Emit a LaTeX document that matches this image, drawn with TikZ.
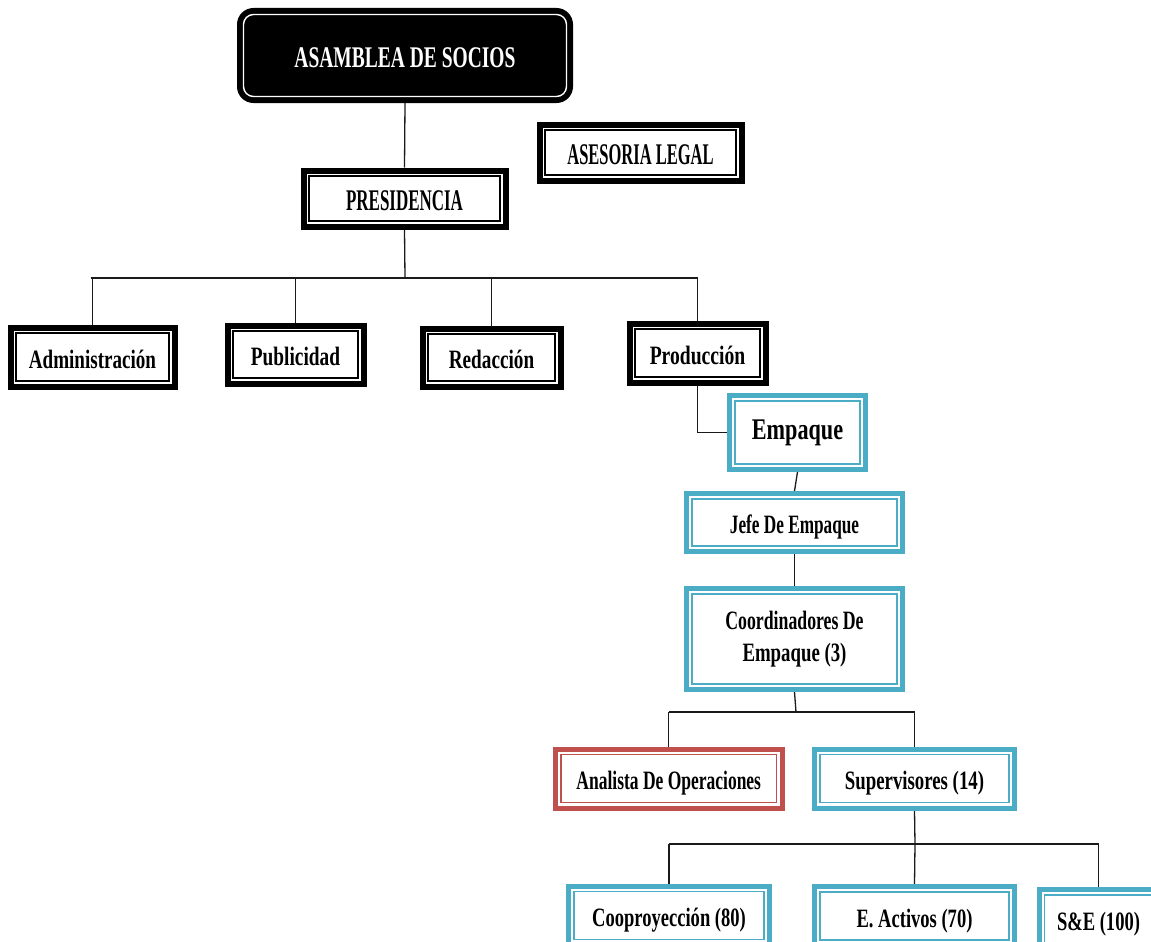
\documentclass[tikz,border=0pt]{standalone}
\usepackage{fontspec}
\usetikzlibrary{backgrounds}
\setmainfont{Liberation Serif}
\definecolor{aqua}{HTML}{4BACC6}
\definecolor{brick}{HTML}{C0504D}
\definecolor{lnk}{HTML}{1A1A1A}
\begin{document}
\begin{tikzpicture}[x=1pt,y=-1pt,
  obox/.style n args={3}{draw=#1, line width=5pt, fill=white, inner sep=0pt,
    minimum width=#2-5pt, minimum height=#3-5pt, align=center,
    path picture={\draw[#1, line width=1.6pt]
      ([shift={(5.6pt,-5.6pt)}]path picture bounding box.north west) rectangle
      ([shift={(-5.6pt,5.6pt)}]path picture bounding box.south east);}},
  bbox/.style 2 args={obox={black}{#1}{#2}, line width=6pt},
  cbox/.style 2 args={obox={aqua}{#1}{#2}},
  rbox/.style 2 args={obox={brick}{#1}{#2}},
  capt/.style={font=\rmfamily\bfseries\fontsize{30}{32}\selectfont\addfontfeatures{FakeStretch=#1},
    text height=23.5pt, text depth=0pt},
  lowf/.style={font=\rmfamily\bfseries\fontsize{26.5}{32}\selectfont\addfontfeatures{FakeStretch=#1}},
  lowt/.style={lowf=#1, text height=22pt, text depth=0pt},
  link/.style={draw=lnk, line width=1.3pt}
]
\useasboundingbox (0,0) rectangle (1151,942);
\coordinate (b1) at (405,278);
\coordinate (b2) at (796,712);
\coordinate (b3) at (915,844);

\node[draw=black, fill=black, line width=3pt, rounded corners=15pt, minimum width=333pt, minimum height=92pt,
  inner sep=0pt, capt=0.65, text=white,
  path picture={\draw[white, line width=1.4pt, rounded corners=10pt]
      ([shift={(5pt,-5pt)}]path picture bounding box.north west) rectangle
      ([shift={(-5pt,5pt)}]path picture bounding box.south east);}]
  (asam) at (405,55.5) {ASAMBLEA DE SOCIOS};

\node[bbox={207}{61}, capt=0.55] (ases) at (640.5,152.5) {ASESORIA LEGAL};
\node[bbox={207}{61}, capt=0.565] (pres) at (404.5,198.5) {PRESIDENCIA};

\node[bbox={169}{64}, lowt=0.72] (adm) at (92.5,357) {Administración};
\node[bbox={141}{63}, lowt=0.73] (pub) at (295.5,354.5) {Publicidad};
\node[bbox={143}{63}, lowt=0.725] (red) at (491.5,357.5) {Redacción};
\node[bbox={141}{64}, lowt=0.74] (prod) at (697.5,353) {Producción};

\node[cbox={141}{79}, font=\rmfamily\bfseries\fontsize{30}{32}\selectfont\addfontfeatures{FakeStretch=0.74}] (emp) at (797.5,432.5) {Empaque};
\node[cbox={221}{63}, lowt=0.65] (jefe) at (794.5,522.5) {Jefe De Empaque};
\node[cbox={221}{106}, lowf=0.67] (coord) at (794.5,639) {Coordinadores De\\\addfontfeatures{FakeStretch=0.71}Empaque (3)};

\node[rbox={232}{64}, lowt=0.66] (anal) at (668.75,778.5) {Analista De Operaciones};
\node[cbox={205}{64}, lowt=0.71] (sup) at (914.5,778.5) {Supervisores (14)};

\node[cbox={206}{64}, lowt=0.70] (coop) at (669,915.5) {Cooproyección (80)};
\node[cbox={205}{64}, lowt=0.70] (act) at (914.5,916) {E. Activos (70)};
\node[cbox={124}{64}, lowt=0.70] (sye) at (1098.5,919) {S\&E (100)};

\begin{scope}[on background layer]
\draw[link] (asam.south) -- (pres.north);
\draw[link] (pres.south) -- (b1);
\draw[link] (91,278) -- (698,278);
\draw[link] (b1 -| adm) -- (adm.north);
\draw[link] (b1 -| pub) -- (pub.north);
\draw[link] (b1 -| red) -- (red.north);
\draw[link] (b1 -| prod) -- (prod.north);
\draw[link] (prod.south) |- (emp.west);
\draw[link] (emp.south) -- (jefe.north);
\draw[link] (jefe.south) -- (coord.north);
\draw[link] (coord.south) -- (b2);
\draw[link] (b2 -| anal) -- (b2 -| sup);
\draw[link] (b2 -| anal) -- (anal.north);
\draw[link] (b2 -| sup) -- (sup.north);
\draw[link] (sup.south) -- (b3);
\draw[link] (b3 -| coop) -- (b3 -| sye);
\draw[link] (b3 -| coop) -- (coop.north);
\draw[link] (b3) -- (act.north);
\draw[link] (b3 -| sye) -- (sye.north);
\end{scope}
\end{tikzpicture}
\end{document}
